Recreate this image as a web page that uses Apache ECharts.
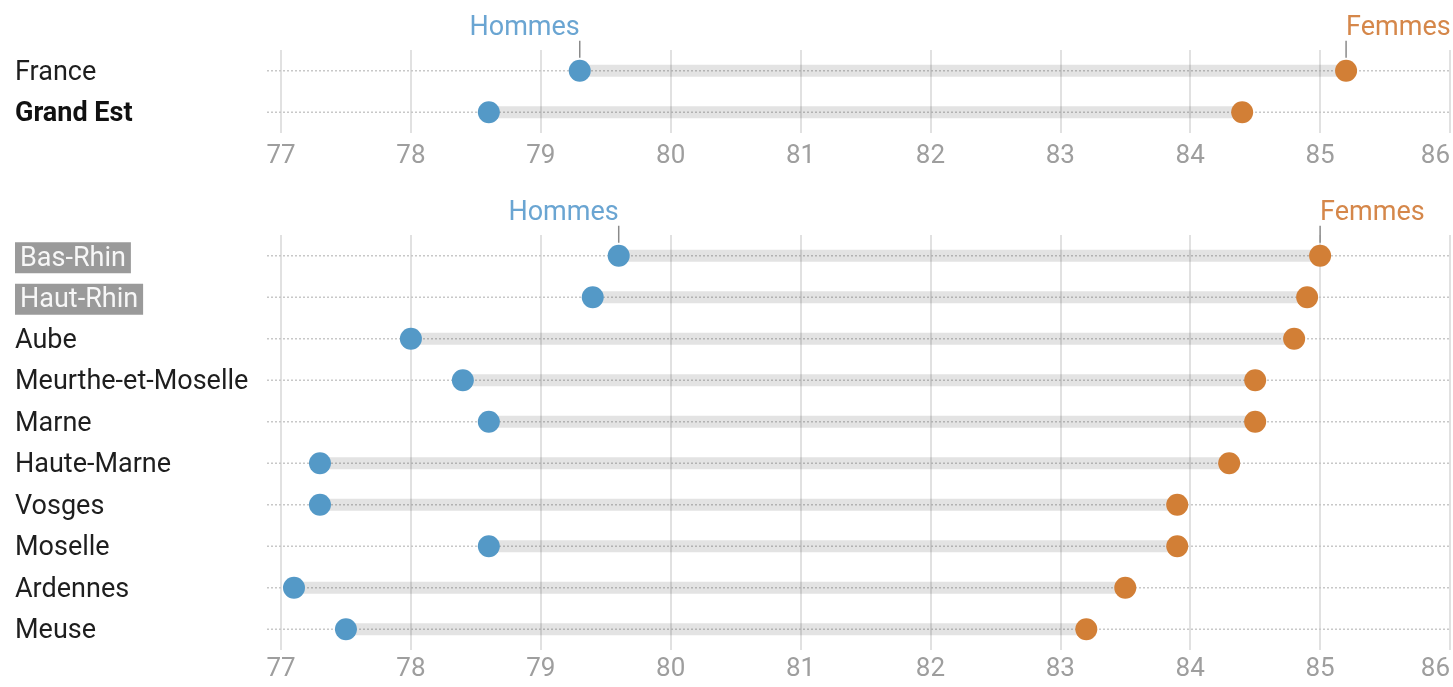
<!DOCTYPE html>
<html><head><meta charset="utf-8">
<script src="https://cdn.jsdelivr.net/npm/echarts@6/dist/echarts.min.js"></script>
<style>html,body{margin:0;padding:0;background:#fff}#c{width:1453px;height:687px}</style>
</head><body><div id="c"></div>
<script>
const topCategories = ['France', 'Grand Est'];
const topHommes = [79.3, 78.6];
const topFemmes = [85.2, 84.4];
const deptCategories = ['Bas-Rhin', 'Haut-Rhin', 'Aube', 'Meurthe-et-Moselle', 'Marne', 'Haute-Marne', 'Vosges', 'Moselle', 'Ardennes', 'Meuse'];
const deptHommes = [79.6, 79.4, 78.0, 78.4, 78.6, 77.3, 77.3, 78.6, 77.1, 77.5];
const deptFemmes = [85.0, 84.9, 84.8, 84.5, 84.5, 84.3, 83.9, 83.9, 83.5, 83.2];
const xMin = 77, xMax = 86, xInterval = 1;
const highlighted = ['Bas-Rhin', 'Haut-Rhin'];
const boldLabels = ['Grand Est'];
const seriesNames = ['Hommes', 'Femmes'];

const FONT = 'Roboto';
const BLUE = '#5499c7', ORANGE = '#d27f36';
const BLUE_TXT = '#6aa5d2', ORANGE_TXT = '#d5874a';
const CAT_SIZE = 27, AXIS_SIZE = 26, ANN_SIZE = 27;

function makeRender() {
  return function (params, api) {
    const cat = api.value(0);
    const h = api.value(1), f = api.value(2);
    const p1 = api.coord([h, cat]);
    const p2 = api.coord([f, cat]);
    const cs = params.coordSys;
    const y = p1[1];
    const children = [
      { type: 'line', shape: { x1: cs.x - 14, y1: y, x2: cs.x + cs.width, y2: y },
        style: { stroke: '#c8c8c8', lineWidth: 1.5, lineDash: [2, 2] } },
      { type: 'rect', shape: { x: p1[0], y: y - 6, width: p2[0] - p1[0], height: 12 },
        style: { fill: 'rgba(0,0,0,0.11)' } }
    ];
    if (params.dataIndex === 0) {
      children.push({ type: 'line', shape: { x1: p1[0], y1: y - 30, x2: p1[0], y2: y - 13 }, style: { stroke: '#8a8a8a', lineWidth: 1.5 } });
      children.push({ type: 'line', shape: { x1: p2[0], y1: y - 30, x2: p2[0], y2: y - 13 }, style: { stroke: '#8a8a8a', lineWidth: 1.5 } });
      children.push({ type: 'text', style: { text: seriesNames[0], x: p1[0], y: y - 43, align: 'right', verticalAlign: 'middle', fill: BLUE_TXT, fontSize: ANN_SIZE, fontFamily: FONT } });
      children.push({ type: 'text', style: { text: seriesNames[1], x: p2[0], y: y - 43, align: 'left', verticalAlign: 'middle', fill: ORANGE_TXT, fontSize: ANN_SIZE, fontFamily: FONT } });
    }
    return { type: 'group', children };
  };
}

function xAxisFor(gridIndex, margin) {
  return {
    type: 'value', gridIndex, min: xMin, max: xMax, interval: xInterval,
    axisLine: { show: false }, axisTick: { show: false },
    splitLine: { show: true, lineStyle: { color: '#e1e1e1', width: 2 } },
    axisLabel: { color: '#9e9e9e', fontSize: AXIS_SIZE, fontFamily: FONT, margin, alignMaxLabel: 'right' }
  };
}
function yAxisFor(gridIndex, cats) {
  return {
    type: 'category', gridIndex, data: cats, inverse: true,
    axisLine: { show: false }, axisTick: { show: false }, splitLine: { show: false },
    axisLabel: {
      align: 'left', margin: 266, color: '#1e1e1e', fontSize: CAT_SIZE, fontFamily: FONT,
      padding: [4, 0, 0, 0],
      formatter: v => highlighted.includes(v) ? '{h|' + v + '}' : (boldLabels.includes(v) ? '{b|' + v + '}' : v),
      rich: {
        h: { backgroundColor: '#9a9a9a', color: '#f7f7f7', padding: [3, 5, 1, 5], fontSize: CAT_SIZE, fontFamily: FONT, align: 'left' },
        b: { fontWeight: 'bold', color: '#111', fontSize: CAT_SIZE, fontFamily: FONT, align: 'left' }
      }
    }
  };
}

function seriesFor(idx, cats, hom, fem) {
  return [
    { type: 'custom', xAxisIndex: idx, yAxisIndex: idx, z: 1, silent: true,
      renderItem: makeRender(),
      encode: { x: [1, 2], y: 0 },
      data: cats.map((c, i) => [i, hom[i], fem[i]]) },
    { type: 'scatter', name: seriesNames[0], xAxisIndex: idx, yAxisIndex: idx, z: 3, symbolSize: 22,
      itemStyle: { color: BLUE, opacity: 1 }, data: cats.map((c, i) => [hom[i], c]) },
    { type: 'scatter', name: seriesNames[1], xAxisIndex: idx, yAxisIndex: idx, z: 3, symbolSize: 22,
      itemStyle: { color: ORANGE, opacity: 1 }, data: cats.map((c, i) => [fem[i], c]) }
  ];
}

const chart = echarts.init(document.getElementById('c'));
chart.setOption({
  animation: false,
  backgroundColor: '#fff',
  grid: [
    { left: 281, right: 1, top: 50, height: 83 },
    { left: 281, right: 1, top: 235, height: 415 }
  ],
  xAxis: [xAxisFor(0, 10), xAxisFor(1, 6)],
  yAxis: [yAxisFor(0, topCategories), yAxisFor(1, deptCategories)],
  series: [].concat(seriesFor(0, topCategories, topHommes, topFemmes), seriesFor(1, deptCategories, deptHommes, deptFemmes))
});
</script></body></html>
